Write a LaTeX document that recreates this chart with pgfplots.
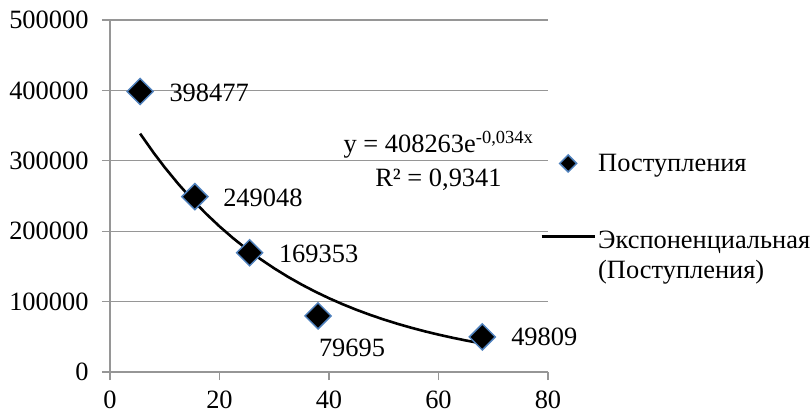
\documentclass[border=0pt]{standalone}
\usepackage{fontspec}
\setmainfont{Liberation Serif}
\usepackage{pgfplots}
\pgfplotsset{compat=1.18}
\usepackage{pgfplotstable}
\definecolor{gridgray}{HTML}{969696}
\definecolor{mkblue}{HTML}{4F81BD}

\pgfplotsset{
  legmark/.style={legend image code/.code={\draw[mark repeat=2,mark phase=2,##1, mark size=6bp] plot coordinates {(0bp,0bp) (26.5bp,0bp) (53bp,0bp)};}},
  legline/.style={legend image code/.code={\draw[##1, line width=3bp] (0bp,19bp) -- (53bp,19bp);}},
}

\pgfplotstableread{
x y dx dy lab
5.5 398477 69 -1 398477
15.5 249048 68 -1 249048
25.5 169353 69 -1 169353
38 79695 34 -32 79695
68 49809 62 0 49809
}\pointsdata

\pgfplotstableread{
x y
5.5 338628
8 311040
10 290590
12.5 266910
15 245160
17.5 225180
20 206835
22.5 189975
25 174495
27.5 160280
30 147215
32.5 135220
35 124200
37.5 114080
40 104785
42.5 96245
45 88405
47.5 81195
50 74582
52.5 68503
55 62922
57.5 57794
60 53087
62.5 48759
65 44787
67.5 41137
68 40443
}\trenddata

\begin{document}
\begin{tikzpicture}
\useasboundingbox (0,0) rectangle (811bp,415bp);
\begin{axis}[
  at={(110bp,43bp)}, anchor=south west,
  scale only axis, width=438bp, height=352bp,
  xmin=0, xmax=80, ymin=0, ymax=500000,
  xtick={0,20,40,60,80},
  xticklabels={0,20,40,60,80},
  ytick={0,100000,200000,300000,400000,500000},
  yticklabels={0,100000,200000,300000,400000,500000},
  scaled y ticks=false, scaled x ticks=false,
  xticklabel style={font=\fontsize{26.5}{30}\selectfont\rmfamily, inner sep=0pt, text depth=0pt, yshift=-11bp},
  yticklabel style={font=\fontsize{26.5}{30}\selectfont\rmfamily, xshift=-10bp},
  axis x line*=bottom, axis y line*=left,
  axis line style={draw=gridgray, line width=1.3bp, -},
  every inner x axis line/.append style={-},
  every inner y axis line/.append style={-},
  every outer x axis line/.append style={-},
  every outer y axis line/.append style={-},
  tick align=outside, major tick length=8bp,
  tick style={draw=gridgray, line width=1.3bp},
  ymajorgrids, grid style={draw=gridgray, line width=1.3bp},
  font=\fontsize{26.5}{33}\selectfont,
  clip=false,
  legend style={at={(1,0.597)}, anchor=north west, xshift=-8bp, yshift=10bp,
    draw=none, fill=none, inner sep=0pt,
    font=\fontsize{26.5}{30}\selectfont,
    cells={anchor=west, align=left},
    row sep=54bp},
]
\addplot[only marks, mark=square*, mark size=9.2bp,
  mark options={rotate=45, draw=mkblue, fill=black, line width=1.5bp},
  point meta=explicit symbolic,
  visualization depends on={\thisrow{dx} \as \dx},
  visualization depends on={\thisrow{dy} \as \dy},
  nodes near coords={\pgfplotspointmeta},
  nodes near coords style={anchor=center, xshift=\dx bp, yshift=\dy bp, text=black, font=\fontsize{26.5}{30}\selectfont},
  legmark
] table[x=x, y=y, meta=lab] {\pointsdata};
\addlegendentry{Поступления}
\addplot[black, line width=2.6bp, no marks, legline] table[x=x, y=y] {\trenddata};
\addlegendentry{Экспоненциальная\\(Поступления)}
\node[align=center, font=\fontsize{26.5}{34}\selectfont, inner sep=0pt] at (axis cs:60,300000)
  {y = 408263e\textsuperscript{-0,034x}\\R² = 0,9341};
\end{axis}
\end{tikzpicture}
\end{document}
